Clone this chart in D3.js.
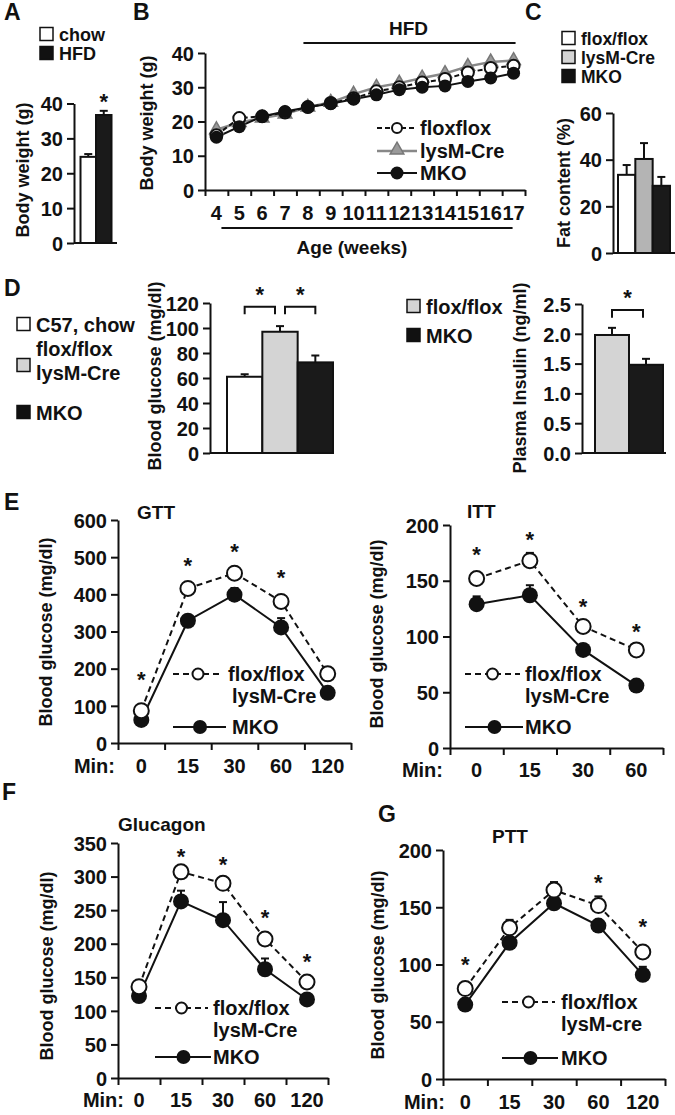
<!DOCTYPE html>
<html><head><meta charset="utf-8">
<script src="https://cdn.jsdelivr.net/npm/d3@7"></script>
<style>
body{margin:0;background:#fff;}
svg text{font-family:"Liberation Sans",Arial,Helvetica,sans-serif;font-weight:bold;fill:#111;}
</style></head><body>
<svg id="fig" width="675" height="1115"></svg>
<script>
// ---------------- DATA ----------------
// Panel A
const aGroups = ["chow", "HFD"];
const aWeight = [24.7, 36.7];
const aWeightErr = [0.8, 1.2];
const aTicks = [0, 10, 20, 30, 40];
// Panel B
const bWeeks = [4, 5, 6, 7, 8, 9, 10, 11, 12, 13, 14, 15, 16, 17];
const bFloxflox = [16, 21, 21.5, 22.6, 24.2, 25.4, 26.8, 28.8, 30, 31.4, 32.4, 34.3, 35.6, 36.3];
const bLysMCre = [17.6, 19.7, 21, 22.2, 24.2, 25.6, 28, 30, 31.2, 32.7, 34, 36.1, 37.4, 37.8];
const bMKO = [15.4, 18.5, 21.5, 22.9, 24.2, 25.2, 26.5, 27.8, 29.3, 30, 30.4, 31.7, 32.7, 34.1];
const bTicks = [0, 10, 20, 30, 40];
// Panel C
const cGroups = ["flox/flox", "lysM-Cre", "MKO"];
const cFat = [33.5, 40.3, 28.8];
const cFatErr = [4.2, 6.8, 3.8];
const cTicks = [0, 20, 40, 60];
// Panel D (glucose)
const dGroups = ["C57, chow", "flox/flox lysM-Cre", "MKO"];
const dGlucose = [61, 97, 72.5];
const dGlucoseErr = [2, 4.5, 5.5];
const dGlucoseTicks = [0, 20, 40, 60, 80, 100, 120];
// Panel D (insulin)
const dInsGroups = ["flox/flox", "MKO"];
const dInsulin = [1.98, 1.48];
const dInsulinErr = [0.12, 0.1];
const dInsulinTicks = [0, 0.5, 1.0, 1.5, 2.0, 2.5];
// Panel E GTT
const gttMin = ["0", "15", "30", "60", "120"];
const gttFlox = [87, 416, 457, 381, 186];
const gttFloxErr = [8, 12, 10, 12, 10];
const gttMKO = [62, 329, 399, 311, 135];
const gttMKOErr = [8, 12, 18, 25, 10];
const gttSig = [true, true, true, true, false];
const gttTicks = [0, 100, 200, 300, 400, 500, 600];
// Panel E ITT
const ittMin = ["0", "15", "30", "60"];
const ittFlox = [152, 168, 109, 88];
const ittFloxErr = [4, 7, 4, 3];
const ittMKO = [129, 137, 88, 56];
const ittMKOErr = [7, 9, 4, 3];
const ittSig = [true, true, true, true];
const ittTicks = [0, 50, 100, 150, 200];
// Panel F Glucagon
const glcMin = ["0", "15", "30", "60", "120"];
const glcFlox = [136, 307, 290, 207, 143];
const glcFloxErr = [5, 6, 6, 6, 6];
const glcMKO = [122, 263, 235, 162, 117];
const glcMKOErr = [5, 16, 27, 16, 5];
const glcSig = [false, true, true, true, true];
const glcTicks = [0, 50, 100, 150, 200, 250, 300, 350];
// Panel G PTT
const pttMin = ["0", "15", "30", "60", "120"];
const pttFlox = [79, 132, 165, 151.5, 111];
const pttFloxErr = [4, 7, 7, 8, 5];
const pttMKO = [65, 119, 153.5, 134, 91];
const pttMKOErr = [3, 5, 5, 4, 7];
const pttSig = [true, false, false, true, true];
const pttTicks = [0, 50, 100, 150, 200];

// ---------------- DRAWING ----------------
const svg = d3.select("#fig");
svg.append("rect").attr("width", 675).attr("height", 1115).attr("fill", "#fff");
const INK = "#111";
const GRAY_BAR = "#d4d4d4";
const TICK_FS = 20, TITLE_FS = 18, LEG_FS = 20, LET_FS = 23;

function text(g, x, y, s, size, anchor = "start", base = "central") {
  return g.append("text").attr("x", x).attr("y", y).attr("font-size", size)
    .attr("text-anchor", anchor).attr("dominant-baseline", base).text(s);
}
function vtitle(g, cx, cy, s, size = TITLE_FS) {
  g.append("text").attr("transform", `translate(${cx},${cy}) rotate(-90)`)
    .attr("text-anchor", "middle").attr("dominant-baseline", "central")
    .attr("font-size", size).text(s);
}
function styleAxis(sel, fs) {
  sel.selectAll("path.domain").attr("stroke", INK).attr("stroke-width", 2);
  sel.selectAll(".tick line").attr("stroke", INK).attr("stroke-width", 2);
  sel.selectAll("text").attr("font-size", fs).style("font-size", fs + "px");
  sel.attr("font-family", null).attr("font-size", null);
}
function yAxis(g, x, y, ticks, fmt, fs = TICK_FS) {
  const ax = g.append("g").attr("transform", `translate(${x},0)`)
    .call(d3.axisLeft(y).tickValues(ticks).tickSize(7).tickSizeOuter(0).tickPadding(4).tickFormat(fmt));
  styleAxis(ax, fs);
  ax.selectAll("text").attr("dy", "0.36em");
  return ax;
}
function legendSwatch(g, x, y, fill, label, fs = LEG_FS) {
  g.append("rect").attr("x", x).attr("y", y - 6.5).attr("width", 13).attr("height", 13)
    .attr("fill", fill).attr("stroke", INK).attr("stroke-width", 1.5);
  if (label) text(g, x + 19, y + 1, label, fs);
}
function star(g, x, yc, fs = 22) {
  text(g, x, yc + fs * 0.55, "*", fs, "middle", "auto");
}

function barPanel(o) {
  const g = svg.append("g");
  const y = d3.scaleLinear().domain([0, o.max]).range([o.yBase, o.yTop]);
  const x = d3.scaleBand().domain(o.groups).range([o.barStart, o.barEnd]).padding(0);
  g.selectAll("rect.bar").data(o.values).join("rect").attr("class", "bar")
    .attr("x", (d, i) => x(o.groups[i])).attr("width", x.bandwidth())
    .attr("y", d => y(d)).attr("height", d => y(0) - y(d))
    .attr("fill", (d, i) => o.fills[i]).attr("stroke", INK).attr("stroke-width", 2);
  o.values.forEach((v, i) => {
    const cx = x(o.groups[i]) + x.bandwidth() / 2;
    g.append("line").attr("x1", cx).attr("x2", cx).attr("y1", y(v)).attr("y2", y(v + o.errs[i]))
      .attr("stroke", INK).attr("stroke-width", 2);
    g.append("line").attr("x1", cx - 4).attr("x2", cx + 4).attr("y1", y(v + o.errs[i])).attr("y2", y(v + o.errs[i]))
      .attr("stroke", INK).attr("stroke-width", 2);
  });
  yAxis(g, o.axisX, y, o.ticks, o.fmt || d3.format("d"), o.tickFs || TICK_FS);
  g.append("line").attr("x1", o.axisX).attr("x2", o.axisEnd).attr("y1", o.yBase).attr("y2", o.yBase)
    .attr("stroke", INK).attr("stroke-width", 2);
  vtitle(g, o.titleX, o.titleY, o.title, o.titleFs || TITLE_FS);
  return { g, x, y };
}

function bracket(g, x1, x2, yTop, yLeg) {
  g.append("path").attr("d", `M${x1},${yLeg}V${yTop}H${x2}V${yLeg}`)
    .attr("fill", "none").attr("stroke", INK).attr("stroke-width", 2);
  star(g, (x1 + x2) / 2, yTop - 17);
}

// ---------- Panel A ----------
text(svg, 4, 20, "A", LET_FS, "start", "auto");
legendSwatch(svg, 40, 34, "#fff", "chow", 18);
legendSwatch(svg, 40, 53, INK, "HFD", 18);
{
  const p = barPanel({ groups: aGroups, values: aWeight, errs: aWeightErr, fills: ["#fff", "#1a1a1a"],
    max: 40, yBase: 243, yTop: 103.5, barStart: 80.5, barEnd: 111.5, axisX: 74, axisEnd: 117,
    ticks: aTicks, titleX: 23, titleY: 170, title: "Body weight (g)" });
  star(p.g, p.x("HFD") + p.x.bandwidth() / 2, p.y(aWeight[1] + aWeightErr[1]) - 14);
}

// ---------- Panel B ----------
text(svg, 133, 20, "B", LET_FS, "start", "auto");
{
  const g = svg.append("g");
  const x0 = 205, x1 = 525;
  const y = d3.scaleLinear().domain([0, 40]).range([190, 53]);
  const x = d3.scaleBand().domain(bWeeks).range([x0, x1]);
  const xl = d3.scaleLinear().domain([0, bWeeks.length]).range([x0, x1]);
  const cx = w => x(w) + x.bandwidth() / 2;
  yAxis(g, x0, y, bTicks, d3.format("d"));
  const xa = g.append("g").attr("transform", `translate(0,190)`)
    .call(d3.axisBottom(xl).tickValues(d3.range(bWeeks.length + 1)).tickSize(6).tickSizeOuter(0).tickFormat(""));
  styleAxis(xa, TICK_FS);
  bWeeks.forEach(w => text(g, cx(w), 213, String(w), TICK_FS, "middle"));
  g.append("line").attr("x1", x(8) + 7).attr("x2", cx(17) + 2).attr("y1", 43).attr("y2", 43).attr("stroke", INK).attr("stroke-width", 2);
  text(g, (x(8) + 7 + cx(17)) / 2, 28, "HFD", 19, "middle");
  g.append("line").attr("x1", cx(4) + 5).attr("x2", cx(17) - 1).attr("y1", 228).attr("y2", 228).attr("stroke", INK).attr("stroke-width", 2);
  text(g, 352, 247, "Age (weeks)", TITLE_FS + 1, "middle");
  vtitle(g, 147, 123, "Body weight (g)");
  const line = d3.line().x((d, i) => cx(bWeeks[i])).y(d => y(d));
  g.append("path").attr("d", line(bLysMCre)).attr("fill", "none").attr("stroke", "#888").attr("stroke-width", 2.5);
  g.append("path").attr("d", line(bFloxflox)).attr("fill", "none").attr("stroke", INK).attr("stroke-width", 2).attr("stroke-dasharray", "5,3");
  g.append("path").attr("d", line(bMKO)).attr("fill", "none").attr("stroke", INK).attr("stroke-width", 2);
  const tri = d3.symbol().type(d3.symbolTriangle).size(80);
  g.selectAll("path.tri").data(bLysMCre).join("path").attr("class", "tri")
    .attr("d", tri).attr("transform", (d, i) => `translate(${cx(bWeeks[i])},${y(d)})`)
    .attr("fill", "#9a9a9a").attr("stroke", "#777").attr("stroke-width", 1.5);
  g.selectAll("circle.fl").data(bFloxflox).join("circle").attr("class", "fl")
    .attr("cx", (d, i) => cx(bWeeks[i])).attr("cy", d => y(d)).attr("r", 6)
    .attr("fill", "#fff").attr("stroke", INK).attr("stroke-width", 2);
  g.selectAll("circle.mk").data(bMKO).join("circle").attr("class", "mk")
    .attr("cx", (d, i) => cx(bWeeks[i])).attr("cy", d => y(d)).attr("r", 6.5)
    .attr("fill", INK);
  const lx1 = 377, lx2 = 417, tx = 420;
  g.append("line").attr("x1", lx1).attr("x2", lx2).attr("y1", 128).attr("y2", 128).attr("stroke", INK).attr("stroke-width", 2).attr("stroke-dasharray", "5,3");
  g.append("circle").attr("cx", 397).attr("cy", 128).attr("r", 5).attr("fill", "#fff").attr("stroke", INK).attr("stroke-width", 2);
  text(g, tx, 128, "floxflox", LEG_FS);
  g.append("line").attr("x1", lx1).attr("x2", lx2).attr("y1", 151).attr("y2", 151).attr("stroke", "#888").attr("stroke-width", 2.5);
  g.append("path").attr("d", tri).attr("transform", "translate(397,150)").attr("fill", "#9a9a9a").attr("stroke", "#777").attr("stroke-width", 1.5);
  text(g, tx, 151, "lysM-Cre", LEG_FS);
  g.append("line").attr("x1", lx1).attr("x2", lx2).attr("y1", 173).attr("y2", 173).attr("stroke", INK).attr("stroke-width", 2);
  g.append("circle").attr("cx", 397).attr("cy", 173).attr("r", 6.5).attr("fill", INK);
  text(g, tx, 173, "MKO", LEG_FS);
}

// ---------- Panel C ----------
text(svg, 525, 20, "C", LET_FS, "start", "auto");
legendSwatch(svg, 562, 38, "#fff", "flox/flox", 17.5);
legendSwatch(svg, 562, 57, GRAY_BAR, "lysM-Cre", 17.5);
legendSwatch(svg, 562, 76, INK, "MKO", 17.5);
barPanel({ groups: cGroups, values: cFat, errs: cFatErr, fills: ["#fff", "#b4b4b4", "#1a1a1a"],
  max: 60, yBase: 253, yTop: 113, barStart: 618, barEnd: 670, axisX: 613, axisEnd: 675,
  ticks: cTicks, titleX: 564, titleY: 183, title: "Fat content (%)" });

// ---------- Panel D ----------
text(svg, 4, 296, "D", LET_FS, "start", "auto");
legendSwatch(svg, 17, 324, "#fff", "C57, chow");
legendSwatch(svg, 17, 365, GRAY_BAR, null);
text(svg, 36, 349, "flox/flox", LEG_FS);
text(svg, 36, 373, "lysM-Cre", LEG_FS);
legendSwatch(svg, 17, 412, INK, "MKO");
{
  const p = barPanel({ groups: dGroups, values: dGlucose, errs: dGlucoseErr, fills: ["#fff", GRAY_BAR, "#1a1a1a"],
    max: 120, yBase: 453, yTop: 303, barStart: 227, barEnd: 333, axisX: 210, axisEnd: 334,
    ticks: dGlucoseTicks, titleX: 155, titleY: 376, title: "Blood glucose (mg/dl)" });
  const c = i => p.x(dGroups[i]) + p.x.bandwidth() / 2;
  bracket(p.g, c(0), c(1) - 5, p.y(117), p.y(111));
  bracket(p.g, c(1) + 5, c(2), p.y(117), p.y(111));
}
legendSwatch(svg, 407, 306, GRAY_BAR, "flox/flox");
legendSwatch(svg, 407, 335, INK, "MKO");
{
  const p = barPanel({ groups: dInsGroups, values: dInsulin, errs: dInsulinErr, fills: [GRAY_BAR, "#1a1a1a"],
    max: 2.5, yBase: 453, yTop: 304, barStart: 595, barEnd: 663, axisX: 582, axisEnd: 666,
    ticks: dInsulinTicks, fmt: d3.format(".1f"), titleX: 520, titleY: 378, title: "Plasma Insulin (ng/ml)" });
  const c = i => p.x(dInsGroups[i]) + p.x.bandwidth() / 2;
  bracket(p.g, c(0), c(1) - 3, p.y(2.4), p.y(2.27));
}

// ---------- Line panels ----------
function linePanel(o) {
  const g = svg.append("g");
  const y = d3.scaleLinear().domain([0, o.max]).range([o.yBase, o.yTop]);
  const x = d3.scaleBand().domain(o.mins).range([o.x0, o.x1]);
  const xl = d3.scaleLinear().domain([0, o.mins.length]).range([o.x0, o.x1]);
  const cx = i => x(o.mins[i]) + x.bandwidth() / 2;
  yAxis(g, o.x0, y, o.ticks, d3.format("d"));
  const xa = g.append("g").attr("transform", `translate(0,${o.yBase})`)
    .call(d3.axisBottom(xl).tickValues(d3.range(o.mins.length + 1)).tickSize(7).tickSizeOuter(0).tickFormat(""));
  styleAxis(xa, TICK_FS);
  o.mins.forEach((m, i) => text(g, cx(i), o.labelY, m, TICK_FS, "middle"));
  text(g, o.minX, o.labelY, "Min:", TICK_FS, "end");
  text(g, o.x0 + o.titleDx, o.titleY, o.title, 19, "start", "auto");
  vtitle(g, o.vtX, o.vtY, "Blood glucose (mg/dl)");
  const line = d3.line().x((d, i) => cx(i)).y(d => y(d));
  const eb = (vals, errs) => vals.forEach((v, i) => {
    g.append("line").attr("x1", cx(i)).attr("x2", cx(i)).attr("y1", y(v)).attr("y2", y(v + errs[i])).attr("stroke", INK).attr("stroke-width", 2);
    g.append("line").attr("x1", cx(i) - 4).attr("x2", cx(i) + 4).attr("y1", y(v + errs[i])).attr("y2", y(v + errs[i])).attr("stroke", INK).attr("stroke-width", 2);
  });
  eb(o.mko, o.mkoErr);
  eb(o.flox, o.floxErr);
  g.append("path").attr("d", line(o.mko)).attr("fill", "none").attr("stroke", INK).attr("stroke-width", 2);
  g.append("path").attr("d", line(o.flox)).attr("fill", "none").attr("stroke", INK).attr("stroke-width", 2).attr("stroke-dasharray", "6,4");
  g.selectAll("circle.mk").data(o.mko).join("circle").attr("class", "mk")
    .attr("cx", (d, i) => cx(i)).attr("cy", d => y(d)).attr("r", 8).attr("fill", INK);
  g.selectAll("circle.fl").data(o.flox).join("circle").attr("class", "fl")
    .attr("cx", (d, i) => cx(i)).attr("cy", d => y(d)).attr("r", 7.5).attr("fill", "#fff").attr("stroke", INK).attr("stroke-width", 2);
  o.sig.forEach((s, i) => { if (s) star(g, cx(i), y(o.flox[i]) - (o.starOff[i] || 26)); });
  const L = o.leg;
  g.append("line").attr("x1", L.x1).attr("x2", L.x2).attr("y1", L.y1).attr("y2", L.y1).attr("stroke", INK).attr("stroke-width", 2).attr("stroke-dasharray", "6,4");
  g.append("circle").attr("cx", (L.x1 + L.x2) / 2).attr("cy", L.y1).attr("r", 5.5).attr("fill", "#fff").attr("stroke", INK).attr("stroke-width", 2);
  text(g, L.tx, L.y1, "flox/flox", LEG_FS);
  text(g, L.tx2, L.y1 + 22, L.cre, LEG_FS);
  g.append("line").attr("x1", L.x1).attr("x2", L.x2 + 3).attr("y1", L.y2).attr("y2", L.y2).attr("stroke", INK).attr("stroke-width", 2);
  g.append("circle").attr("cx", (L.x1 + L.x2) / 2 + 2).attr("cy", L.y2).attr("r", 7).attr("fill", INK);
  text(g, L.tx2, L.y2, "MKO", LEG_FS);
}

text(svg, 4, 510, "E", LET_FS, "start", "auto");
linePanel({ mins: gttMin, flox: gttFlox, floxErr: gttFloxErr, mko: gttMKO, mkoErr: gttMKOErr, sig: gttSig,
  ticks: gttTicks, max: 600, yBase: 743, yTop: 520, x0: 118, x1: 351, labelY: 766, minX: 115,
  title: "GTT", titleDx: 19, titleY: 519, vtX: 46, vtY: 632, starOff: [36, 27, 26, 28],
  leg: { x1: 173, x2: 223, y1: 674, y2: 727, tx: 228, tx2: 232, cre: "lysM-Cre" } });
linePanel({ mins: ittMin, flox: ittFlox, floxErr: ittFloxErr, mko: ittMKO, mkoErr: ittMKOErr, sig: ittSig,
  ticks: ittTicks, max: 200, yBase: 748, yTop: 525, x0: 450, x1: 663, labelY: 770, minX: 443,
  title: "ITT", titleDx: 17, titleY: 518, vtX: 377, vtY: 634, starOff: [29, 26, 25, 23],
  leg: { x1: 465, x2: 520, y1: 674, y2: 727, tx: 525, tx2: 525, cre: "lysM-Cre" } });

text(svg, 2, 800, "F", LET_FS, "start", "auto");
linePanel({ mins: glcMin, flox: glcFlox, floxErr: glcFloxErr, mko: glcMKO, mkoErr: glcMKOErr, sig: glcSig,
  ticks: glcTicks, max: 350, yBase: 1078, yTop: 843, x0: 118, x1: 328, labelY: 1100, minX: 124,
  title: "Glucagon", titleDx: 0, titleY: 831, vtX: 47, vtY: 966, starOff: [0, 20, 23, 26, 25],
  leg: { x1: 155, x2: 208, y1: 1008, y2: 1057, tx: 213, tx2: 213, cre: "lysM-Cre" } });

text(svg, 378, 822, "G", LET_FS, "start", "auto");
linePanel({ mins: pttMin, flox: pttFlox, floxErr: pttFloxErr, mko: pttMKO, mkoErr: pttMKOErr, sig: pttSig,
  ticks: pttTicks, max: 200, yBase: 1079, yTop: 850, x0: 443, x1: 665, labelY: 1102, minX: 445,
  title: "PTT", titleDx: 49, titleY: 843, vtX: 378, vtY: 965, starOff: [29, 0, 0, 28, 30],
  leg: { x1: 502, x2: 555, y1: 1002, y2: 1058, tx: 561, tx2: 561, cre: "lysM-cre" } });
</script>
</body></html>
